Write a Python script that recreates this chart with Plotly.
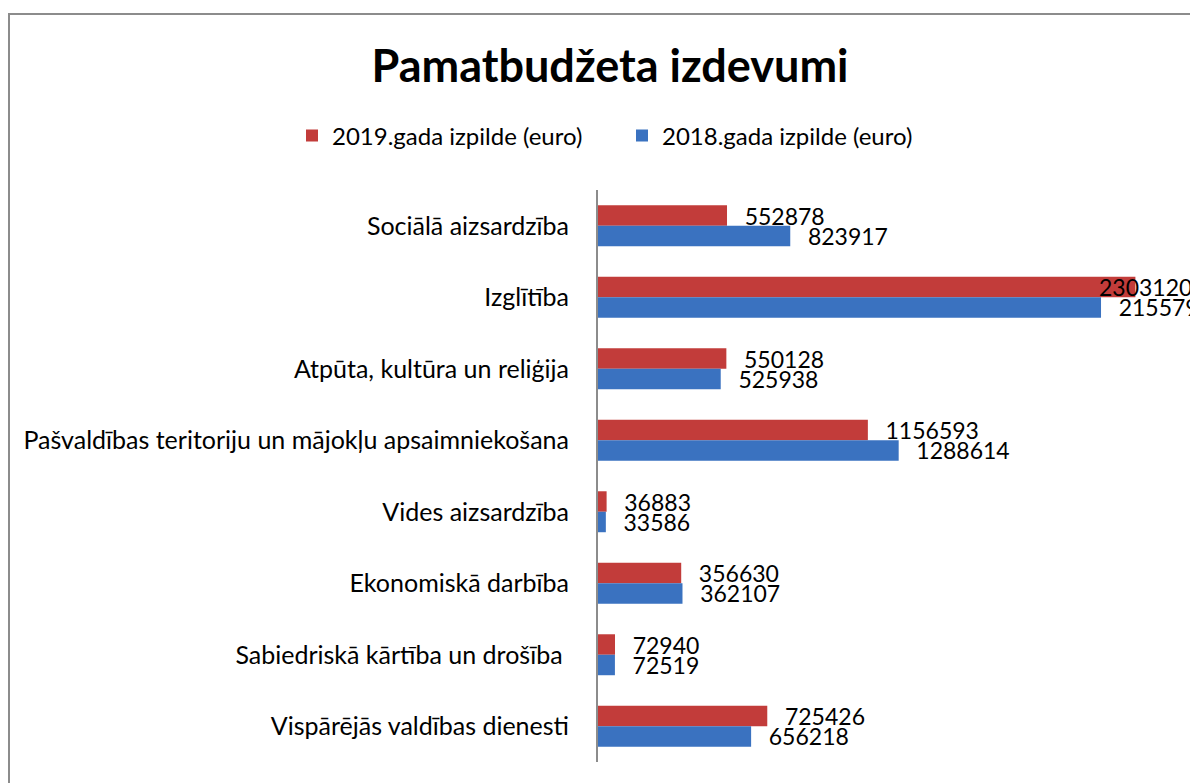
import plotly.graph_objects as go

categories = [
    "Sociālā aizsardzība",
    "Izglītība",
    "Atpūta, kultūra un reliģija",
    "Pašvaldības teritoriju un mājokļu apsaimniekošana",
    "Vides aizsardzība",
    "Ekonomiskā darbība",
    "Sabiedriskā kārtība un drošība ",
    "Vispārējās valdības dienesti",
]
values_2019 = [552878, 2303120, 550128, 1156593, 36883, 356630, 72940, 725426]
values_2018 = [823917, 2155792, 525938, 1288614, 33586, 362107, 72519, 656218]
series_names = ["2019.gada izpilde (euro)", "2018.gada izpilde (euro)"]

FONT = "Lato"
W, H = 1198, 783
# the page adds an 8px body margin, so figure px = page px - 8
L, R, T, B = 590, 0, 182, 29

plot_w = W - L - R
plot_h = H - T - B
x_max = 2605700

label_tpl = "\u00a0\u00a0\u2009%{x:d}"
# the largest 2019 label is pulled back inside the chart (as in the original)
big_idx = values_2019.index(max(values_2019))
tpl_2019 = ["" if i == big_idx else label_tpl for i in range(len(values_2019))]

fig = go.Figure()
fig.add_trace(go.Bar(
    y=categories, x=values_2019, orientation="h", name=series_names[0],
    marker=dict(color="#C23C3A", line=dict(width=0)),
    texttemplate=tpl_2019, textposition="outside",
    constraintext="none", cliponaxis=False,
    textfont=dict(family=FONT, size=23, color="black"),
))
fig.add_trace(go.Bar(
    y=categories, x=values_2018, orientation="h", name=series_names[1],
    marker=dict(color="#3A72C0", line=dict(width=0)),
    texttemplate=label_tpl, textposition="outside",
    constraintext="none", cliponaxis=False,
    textfont=dict(family=FONT, size=23, color="black"),
))

fig.add_annotation(
    x=values_2019[big_idx], y=categories[big_idx], xref="x", yref="y",
    text=str(values_2019[big_idx]), showarrow=False,
    xanchor="left", yanchor="middle", xshift=-38, yshift=10,
    font=dict(family=FONT, size=23, color="black"),
)

fig.update_layout(
    width=W, height=H,
    margin=dict(l=L, r=R, t=T, b=B, pad=0),
    paper_bgcolor="white", plot_bgcolor="white",
    barmode="group", bargap=0.427, bargroupgap=0,
    font=dict(family=FONT, color="black"),
    title=dict(text="<b>Pamatbudžeta izdevumi</b>", x=602 / W, xref="container",
               y=1 - 58 / H, yref="container", xanchor="center", yanchor="middle",
               font=dict(family=FONT, size=45, color="black")),
    legend=dict(orientation="h", x=(284 - L) / plot_w, xanchor="left",
                y=(H - B - 128) / plot_h, yanchor="middle",
                entrywidth=285, entrywidthmode="pixels",
                font=dict(family=FONT, size=24, color="black"),
                bgcolor="rgba(0,0,0,0)"),
    showlegend=True,
    xaxis=dict(range=[0, x_max], showgrid=False, zeroline=False,
               showticklabels=False, showline=False, ticks=""),
    yaxis=dict(autorange="reversed", showline=True, linecolor="#8c8c8c", linewidth=2,
               ticks="", ticklabelstandoff=22, showgrid=False,
               tickfont=dict(family=FONT, size=25, color="black")),
    shapes=[dict(type="rect", xref="paper", yref="paper",
                 x0=(1 - L) / plot_w, x1=(W + 30 - L) / plot_w,
                 y0=(H - B - (H + 30)) / plot_h, y1=(H - B - 6) / plot_h,
                 line=dict(color="#8c8c8c", width=2), fillcolor="rgba(0,0,0,0)",
                 layer="below")],
)

fig.write_html("out.html")
